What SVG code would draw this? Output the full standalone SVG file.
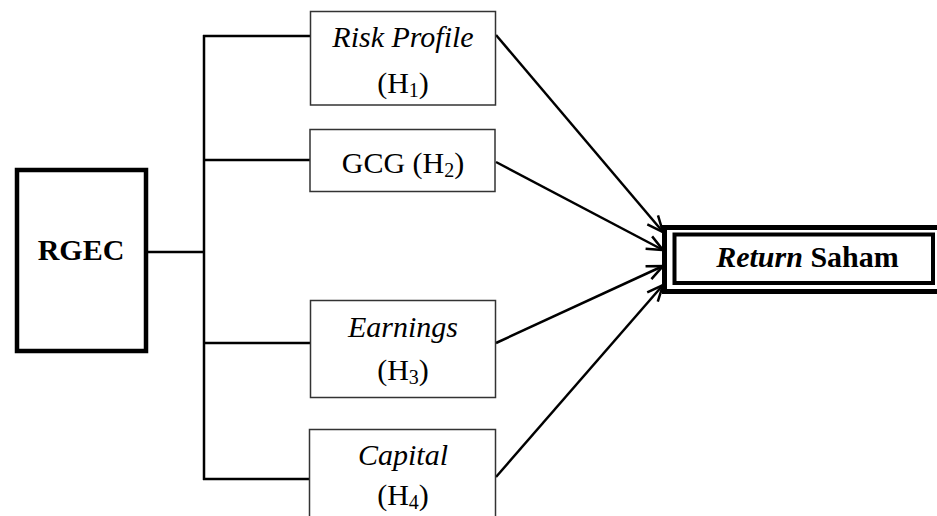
<svg xmlns="http://www.w3.org/2000/svg" width="937" height="516" viewBox="0 0 937 516">
<style>
text{font-size:30px;fill:#000;text-anchor:middle}
.it{font-style:italic}
.b{font-weight:bold}
.box{fill:#fff;stroke:#333;stroke-width:1.5}
.con{stroke:#000;stroke-width:2.5;fill:none}
.sub{font-size:20px}
</style>
<defs>
<marker id="arr" markerUnits="userSpaceOnUse" markerWidth="22" markerHeight="18" refX="18" refY="9" orient="auto">
<path d="M2,2 L18,9 L2,16" fill="none" stroke="#000" stroke-width="2.5"/>
</marker>
</defs>
<rect width="937" height="516" fill="#fff"/>
<g id="connectors">
<line class="con" x1="148" y1="252" x2="204" y2="252"/>
<line class="con" x1="204" y1="35" x2="204" y2="480"/>
<line class="con" x1="203" y1="36" x2="310" y2="36"/>
<line class="con" x1="203" y1="160" x2="310" y2="160"/>
<line class="con" x1="203" y1="343" x2="310" y2="343"/>
<line class="con" x1="203" y1="479" x2="310" y2="479"/>
<line class="con" x1="496" y1="35" x2="663" y2="232" marker-end="url(#arr)"/>
<line class="con" x1="496" y1="162" x2="663" y2="250" marker-end="url(#arr)"/>
<line class="con" x1="496" y1="343" x2="663" y2="266" marker-end="url(#arr)"/>
<line class="con" x1="496" y1="477" x2="663" y2="285" marker-end="url(#arr)"/>
</g>
<g font-family="Liberation Serif, Times New Roman, DejaVu Serif, serif">
<g id="rgec">
<rect x="17" y="170" width="129" height="181" fill="#fff" stroke="#000" stroke-width="4.5"/>
<text class="b" x="81" y="260">RGEC</text>
</g>
<g id="risk">
<rect class="box" x="310.5" y="11.5" width="185" height="93.5"/>
<text class="it" x="403" y="47">Risk Profile</text>
<text x="403" y="93">(H<tspan class="sub" dy="4">1</tspan><tspan dy="-4">)</tspan></text>
</g>
<g id="gcg">
<rect class="box" x="310" y="129.5" width="185" height="62"/>
<text x="403" y="173">GCG (H<tspan class="sub" dy="4">2</tspan><tspan dy="-4">)</tspan></text>
</g>
<g id="earnings">
<rect class="box" x="310.5" y="300.5" width="185" height="97"/>
<text class="it" x="403" y="337">Earnings</text>
<text x="403" y="380">(H<tspan class="sub" dy="4">3</tspan><tspan dy="-4">)</tspan></text>
</g>
<g id="capital">
<rect class="box" x="309.5" y="429.5" width="186" height="100"/>
<text class="it" x="403" y="465">Capital</text>
<text x="403" y="505">(H<tspan class="sub" dy="4">4</tspan><tspan dy="-4">)</tspan></text>
</g>
<g id="return">
<rect x="664.5" y="227.5" width="290" height="64" fill="#fff" stroke="#000" stroke-width="5"/>
<rect x="674.5" y="234.5" width="258.5" height="48.5" fill="#fff" stroke="#000" stroke-width="4"/>
<text class="b" x="807.5" y="267"><tspan class="it">Return</tspan> Saham</text>
</g>
</g>
</svg>
